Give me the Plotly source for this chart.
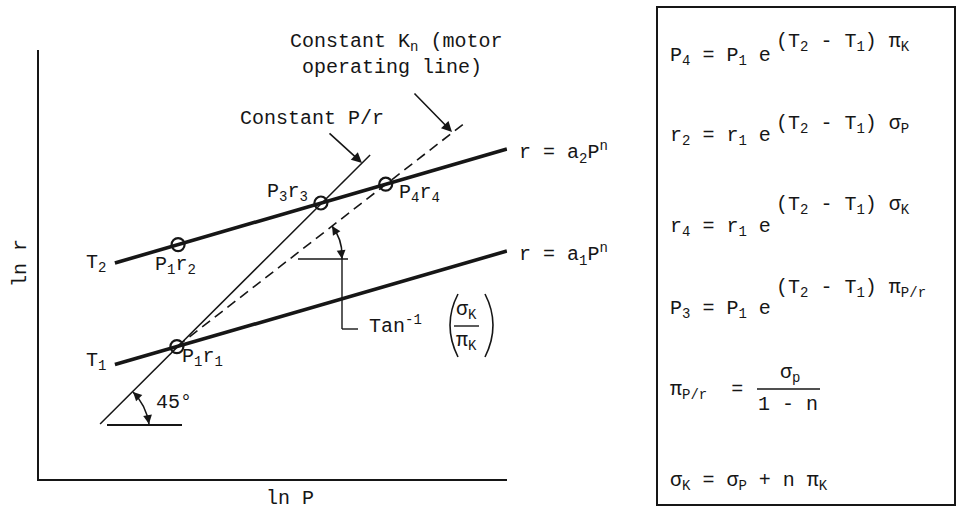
import plotly.graph_objects as go

W, H = 958, 512
INK = "#161616"
FONT = dict(family="Liberation Mono", size=20, color=INK)

# Burning-rate lines r = a P^n at the two temperatures, in (ln P, ln r) units
LN_P_T1 = [1.91, 11.71]
LN_R_T1 = [2.86, 5.70]
LN_P_T2 = [1.91, 11.71]
LN_R_T2 = [5.40, 8.25]

# Constant P/r line (45 degrees) and constant K_n motor operating line
LN_P_CONST_PR = [1.54, 8.29]
LN_R_CONST_PR = [1.375, 8.10]
LN_P_CONST_KN = [3.46, 10.69]
LN_R_CONST_KN = [3.31, 8.925]

# Operating points
POINT_LABELS = [
    "P<sub>1</sub>r<sub>1</sub>",
    "P<sub>1</sub>r<sub>2</sub>",
    "P<sub>3</sub>r<sub>3</sub>",
    "P<sub>4</sub>r<sub>4</sub>",
]
POINT_LN_P = [3.46, 3.49, 7.06, 8.68]
POINT_LN_R = [3.31, 5.86, 6.90, 7.37]

# Extent of the ln P / ln r frame
LN_P_MAX = 11.72
LN_R_MAX = 10.725

# Frame placement on the page (pixels)
FRAME_LEFT = 38.5
FRAME_BOTTOM = 479.0
UNIT = 40.0


def fx(px):
    return px / W


def fy(py):
    return 1 - py / H


fig = go.Figure()

fig.add_trace(go.Scatter(x=LN_P_T1, y=LN_R_T1, mode="lines",
                         line=dict(color=INK, width=3.6), hoverinfo="skip"))
fig.add_trace(go.Scatter(x=LN_P_T2, y=LN_R_T2, mode="lines",
                         line=dict(color=INK, width=3.6), hoverinfo="skip"))
fig.add_trace(go.Scatter(x=LN_P_CONST_PR, y=LN_R_CONST_PR, mode="lines",
                         line=dict(color=INK, width=1.5), hoverinfo="skip"))
fig.add_trace(go.Scatter(x=LN_P_CONST_KN, y=LN_R_CONST_KN, mode="lines",
                         line=dict(color=INK, width=1.6, dash="10px,6px"),
                         hoverinfo="skip"))
fig.add_trace(go.Scatter(
    x=POINT_LN_P, y=POINT_LN_R, mode="markers", cliponaxis=False,
    marker=dict(symbol="circle-open", size=13, color=INK, line=dict(width=2.2, color=INK)),
    hoverinfo="skip"))

annotations = []


def text(t, x, y, xref="paper", yref="paper", xanchor="center", yanchor="middle",
         xshift=0, yshift=0, angle=0, size=None):
    f = dict(FONT)
    if size:
        f["size"] = size
    annotations.append(dict(text=t, x=x, y=y, xref=xref, yref=yref, showarrow=False,
                            xanchor=xanchor, yanchor=yanchor, xshift=xshift,
                            yshift=yshift, textangle=angle, font=f))


def arrow(hx, hy, dx, dy, size=1.3):
    annotations.append(dict(text="", x=fx(hx), y=fy(hy), xref="paper", yref="paper",
                            ax=dx, ay=dy, showarrow=True, arrowhead=2, arrowsize=size,
                            arrowwidth=1.6, arrowcolor=INK, standoff=0))


# Point labels, placed relative to the points
point_offsets = [("left", 3, -11), ("center", -3, -21), ("center", -33, 11), ("left", 11, -9)]
for lab, xp, yp, (anc, dx, dy) in zip(POINT_LABELS, POINT_LN_P, POINT_LN_R, point_offsets):
    text(lab, xp, yp, xref="x", yref="y", xanchor=anc, xshift=dx, yshift=dy)

# Temperature labels at the line starts, equation labels at the line ends
text("T<sub>2</sub>", LN_P_T2[0], LN_R_T2[0], "x", "y", xanchor="right", xshift=-7, yshift=0)
text("T<sub>1</sub>", LN_P_T1[0], LN_R_T1[0], "x", "y", xanchor="right", xshift=-7, yshift=3)
text("r = a<sub>2</sub>P<sup>n</sup>", LN_P_T2[1], LN_R_T2[1], "x", "y",
     xanchor="left", xshift=10, yshift=-3)
text("r = a<sub>1</sub>P<sup>n</sup>", LN_P_T1[1], LN_R_T1[1], "x", "y",
     xanchor="left", xshift=10, yshift=-3)

# Axis titles
text("ln r", fx(20), fy(263), angle=-90)
text("ln P", fx(290), fy(498))

# Callouts
text("Constant P/r", fx(312), fy(118))
text("Constant K<sub>n</sub> (motor", fx(288), fy(42), xanchor="left")
text("operating line)", fx(300), fy(67), xanchor="left")
arrow(362, 163, -34, -31)
arrow(452, 132, -39, -40)

# Angle annotations
text("45°", fx(174), fy(402))
arrow(133, 392, 7, 7, size=1.1)
arrow(149, 424, -1.5, -9, size=1.1)
arrow(332, 226, 5, 8, size=1.1)
arrow(342, 259, -1, -10, size=1.1)
text("Tan<sup>-1</sup>", fx(367), fy(325), xanchor="left")
text("σ<sub>K</sub>", fx(466), fy(310))
text("π<sub>K</sub>", fx(466), fy(341))

# Equations
EXP_T = "(T<sub>2</sub> - T<sub>1</sub>) "
rows = [
    ("P<sub>4</sub> = P<sub>1</sub> e", 56, EXP_T + "π<sub>K</sub>", 42),
    ("r<sub>2</sub> = r<sub>1</sub> e", 136, EXP_T + "σ<sub>P</sub>", 124),
    ("r<sub>4</sub> = r<sub>1</sub> e", 227, EXP_T + "σ<sub>K</sub>", 205),
    ("P<sub>3</sub> = P<sub>1</sub> e", 309, EXP_T + "π<sub>P/r</sub>", 288),
]
for base, by, expo, ey in rows:
    text(base, fx(668), fy(by), xanchor="left")
    text(expo, fx(774), fy(ey), xanchor="left")
text("π<sub>P/r</sub>  =", fx(668), fy(390), xanchor="left")
text("σ<sub>p</sub>", fx(790), fy(373))
text("1 - n", fx(788), fy(404))
text("σ<sub>K</sub> = σ<sub>P</sub> + n π<sub>K</sub>", fx(668), fy(481), xanchor="left")

shapes = []


def seg(x0, y0, x1, y1, w=1.6):
    shapes.append(dict(type="line", xref="paper", yref="paper", x0=fx(x0), y0=fy(y0),
                       x1=fx(x1), y1=fy(y1), line=dict(color=INK, width=w)))


def curve(x0, y0, cx, cy, x1, y1, w=1.6):
    p = f"M {fx(x0)},{fy(y0)} Q {fx(cx)},{fy(cy)} {fx(x1)},{fy(y1)}"
    shapes.append(dict(type="path", xref="paper", yref="paper", path=p,
                       line=dict(color=INK, width=w)))


# 45 degree reference
seg(107, 425, 182, 425, 2)
curve(133, 392, 146, 405, 149, 424)
# Slope reference for the operating line
seg(298, 259, 348, 259, 1.6)
seg(342, 259, 342, 329, 1.4)
seg(342, 329, 358, 329, 1.4)
curve(332, 226, 343, 240, 342, 259)
# Parentheses and fraction bar
curve(458, 294, 442, 325, 458, 357, 1.6)
curve(485, 294, 501, 325, 485, 357, 1.6)
seg(454, 326, 479, 326, 1.4)
seg(757, 389, 820, 389, 1.6)
# Equation box
shapes.append(dict(type="rect", xref="paper", yref="paper", x0=fx(657), y0=fy(505),
                   x1=fx(955), y1=fy(7), line=dict(color=INK, width=2)))

axis_common = dict(showgrid=False, zeroline=False, ticks="", showticklabels=False,
                   showline=True, linecolor=INK, linewidth=2, fixedrange=True)

fig.update_layout(
    width=W, height=H, autosize=False,
    margin=dict(l=0, r=0, t=0, b=0),
    paper_bgcolor="white", plot_bgcolor="white",
    showlegend=False,
    xaxis=dict(domain=[fx(FRAME_LEFT), fx(FRAME_LEFT + LN_P_MAX * UNIT)],
               range=[0, LN_P_MAX], **axis_common),
    yaxis=dict(domain=[fy(FRAME_BOTTOM), fy(FRAME_BOTTOM - LN_R_MAX * UNIT)],
               range=[0, LN_R_MAX], **axis_common),
    annotations=annotations,
    shapes=shapes,
)

fig.write_html("out.html")
